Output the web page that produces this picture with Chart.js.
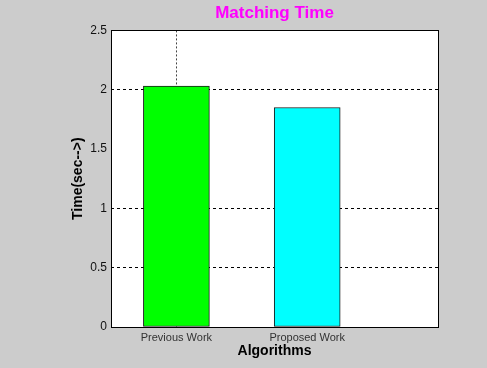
<!DOCTYPE html>
<html>
<head>
<meta charset="utf-8">
<script src="https://cdn.jsdelivr.net/npm/chart.js@4"></script>
<style>
  body { margin: 0; background: #cccccc; }
</style>
</head>
<body>
<canvas id="matchingChart" width="487" height="368"></canvas>
<script>
// Graph data
const algorithms = ["Previous Work", "Proposed Work"];
const algoPositions = [1, 2];
const matchingTime = [2.03, 1.85];
const barColors = ["#00ff00", "#00ffff"];
const yTicks = [0, 0.5, 1, 1.5, 2, 2.5];

// White plot background
const plotBackground = {
  id: "plotBackground",
  beforeDraw(chart) {
    const { ctx, chartArea: a } = chart;
    ctx.save();
    ctx.fillStyle = "#ffffff";
    ctx.fillRect(a.left, a.top, a.right - a.left, a.bottom - a.top);
    ctx.restore();
  },
};

// Black box around the plot area
const frameBox = {
  id: "frameBox",
  afterDatasetsDraw(chart) {
    const { ctx, chartArea: a } = chart;
    ctx.save();
    ctx.strokeStyle = "#000000";
    ctx.lineWidth = 1;
    ctx.strokeRect(Math.round(a.left) + 0.5, Math.round(a.top) + 0.5,
      Math.round(a.right - a.left), Math.round(a.bottom - a.top));
    ctx.restore();
  },
};

const ctx = document.getElementById("matchingChart");
new Chart(ctx, {
  type: "bar",
  data: {
    datasets: [
      {
        data: algoPositions.map((x, i) => ({ x: x, y: matchingTime[i] })),
        backgroundColor: barColors,
        borderColor: "#1a1a1a",
        borderWidth: 1,
        borderSkipped: false,
        barThickness: 66,
      },
    ],
  },
  options: {
    responsive: false,
    animation: false,
    layout: { padding: { top: 0, right: 49, left: 0, bottom: 0 } },
    plugins: {
      legend: { display: false },
      tooltip: { enabled: false },
      title: {
        display: true,
        text: "Matching Time",
        color: "#ff00ff",
        fullSize: false,
        font: { family: "Liberation Sans, Arial", size: 17, weight: "bold" },
        padding: { top: 3, bottom: 7 },
      },
    },
    scales: {
      x: {
        type: "linear",
        offset: false,
        min: 0.5,
        max: 3,
        afterBuildTicks(scale) {
          scale.ticks = algoPositions.map((v) => ({ value: v }));
        },
        afterFit(scale) {
          scale.height = 41;
        },
        ticks: {
          padding: 4,
          color: "#333333",
          font: { family: "Liberation Sans, Arial", size: 11 },
          callback: (value) => algorithms[algoPositions.indexOf(value)] || "",
        },
        grid: {
          offset: false,
          drawTicks: false,
          color: (c) => (c.tick && c.tick.value === 1 ? "#444444" : "transparent"),
        },
        border: { display: false, dash: [2, 2] },
        title: {
          display: true,
          text: "Algorithms",
          color: "#000000",
          font: { family: "Liberation Sans, Arial", size: 14, weight: "bold" },
          padding: { top: 0, bottom: 8 },
        },
      },
      y: {
        min: 0,
        max: 2.5,
        afterBuildTicks(scale) {
          scale.ticks = yTicks.map((v) => ({ value: v }));
        },
        afterFit(scale) {
          scale.width = 111;
        },
        ticks: {
          padding: 4,
          color: "#111111",
          font: { family: "Liberation Sans, Arial", size: 12 },
          callback: (value) => String(value),
        },
        grid: {
          drawTicks: false,
          color: (c) =>
            c.tick && [0.5, 1, 2].includes(c.tick.value) ? "#000000" : "transparent",
        },
        border: { display: false, dash: [3, 3] },
        title: {
          display: true,
          text: "Time(sec-->)",
          color: "#000000",
          font: { family: "Liberation Sans, Arial", size: 14, weight: "bold" },
          padding: { top: 70, bottom: 0 },
        },
      },
    },
  },
  plugins: [plotBackground, frameBox],
});
</script>
</body>
</html>
